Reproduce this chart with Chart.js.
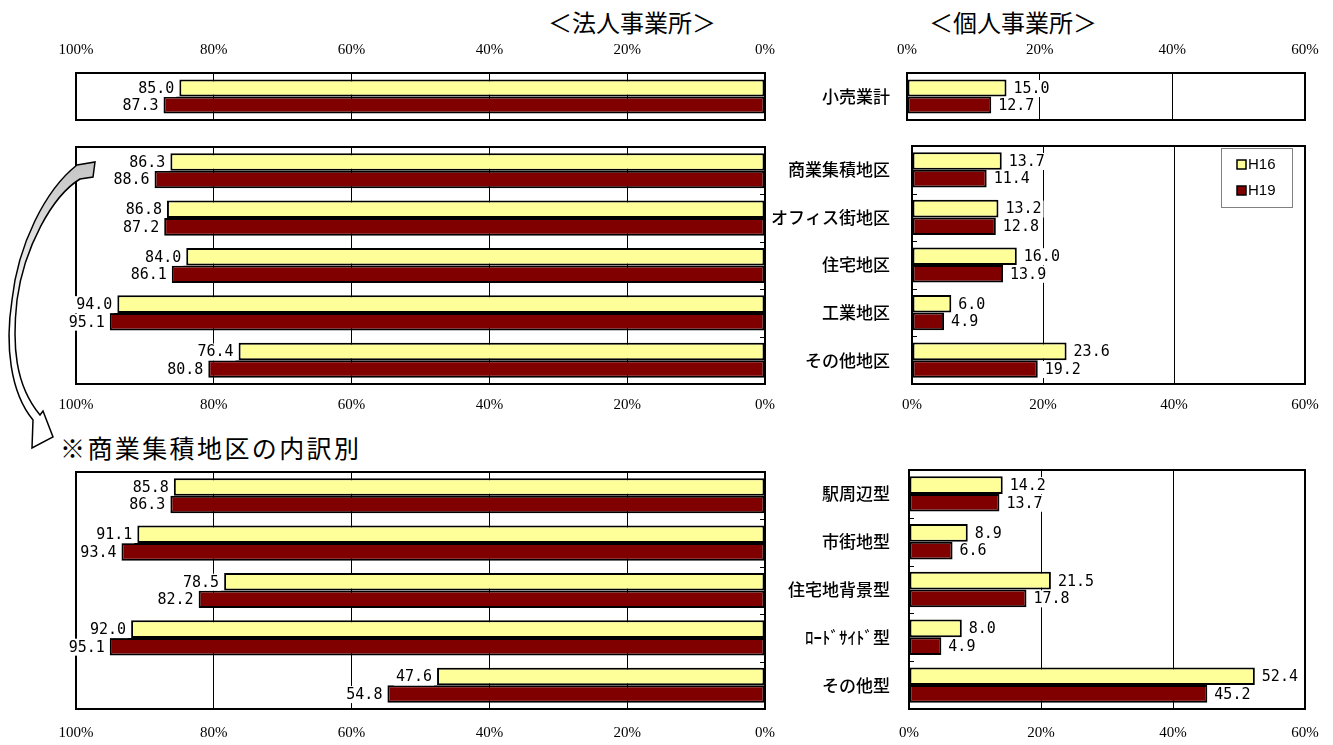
<!DOCTYPE html>
<html lang="ja">
<head>
<meta charset="utf-8">
<script src="https://cdn.jsdelivr.net/npm/chart.js@4.4.1/dist/chart.umd.min.js"></script>
<style>
  html, body { margin: 0; padding: 0; background: #fff; }
  body { width: 1333px; height: 745px; position: relative; overflow: hidden;
         font-family: "Noto Sans CJK JP", sans-serif; color: #000; }
  canvas { position: absolute; }
  .title { position: absolute; font-size: 24px; line-height: 24px; white-space: nowrap;
           transform: translateX(-50%); }
  .subtitle { position: absolute; font-size: 25px; line-height: 26px; letter-spacing: 2.4px;
              font-weight: 400; white-space: nowrap; }
  svg.arrow { position: absolute; left: 0; top: 0; z-index: 5; pointer-events: none; }
</style>
</head>
<body>
<div class="title" style="left:632px; top:10px;">＜法人事業所＞</div>
<div class="title" style="left:1013px; top:10px;">＜個人事業所＞</div>
<div class="subtitle" style="left:60px; top:434px;">※商業集積地区の内訳別</div>

<svg class="arrow" width="140" height="470" viewBox="0 0 140 470">
  <defs>
    <linearGradient id="shade" x1="0" y1="160" x2="0" y2="330" gradientUnits="userSpaceOnUse">
      <stop offset="0" stop-color="#c4c4c4"/>
      <stop offset="1" stop-color="#ffffff"/>
    </linearGradient>
  </defs>
  <path d="M77,165 L95,162 L93,177 L80,179
           C52,196 24,248 17,300 C12,345 15,385 40,415
           L43,411 L53,437 L32,448 L33,420
           C10,392 5,345 12,300 C18,245 45,190 77,165 Z"
        fill="url(#shade)" stroke="#000" stroke-width="1.5" stroke-linejoin="miter"/>
</svg>

<canvas id="corpTotal"></canvas>
<canvas id="indivTotal"></canvas>
<canvas id="corpDistrict"></canvas>
<canvas id="indivDistrict"></canvas>
<canvas id="corpCluster"></canvas>
<canvas id="indivCluster"></canvas>

<script>
// Survey years
const seriesNames = ['H16', 'H19'];

// Retail total
const totalLabels = ['小売業計'];
const corpTotalH16 = [85.0];
const corpTotalH19 = [87.3];
const indivTotalH16 = [15.0];
const indivTotalH19 = [12.7];

// By location type
const districtLabels = ['商業集積地区', 'オフィス街地区', '住宅地区', '工業地区', 'その他地区'];
const corpDistrictH16 = [86.3, 86.8, 84.0, 94.0, 76.4];
const corpDistrictH19 = [88.6, 87.2, 86.1, 95.1, 80.8];
const indivDistrictH16 = [13.7, 13.2, 16.0, 6.0, 23.6];
const indivDistrictH19 = [11.4, 12.8, 13.9, 4.9, 19.2];

// Commercial cluster breakdown
const clusterLabels = ['駅周辺型', '市街地型', '住宅地背景型', 'ﾛｰﾄﾞｻｲﾄﾞ型', 'その他型'];
const corpClusterH16 = [85.8, 91.1, 78.5, 92.0, 47.6];
const corpClusterH19 = [86.3, 93.4, 82.2, 95.1, 54.8];
const indivClusterH16 = [14.2, 8.9, 21.5, 8.0, 52.4];
const indivClusterH19 = [13.7, 6.6, 17.8, 4.9, 45.2];

// Percent axes
const corpAxisMax = 100;
const indivAxisMax = 60;
const axisStep = 20;

const colorH16 = '#FFFF99';
const colorH19 = '#800000';

// Black frame around the plot area plus small inward ticks between categories
const framePlugin = {
  id: 'frame',
  afterDatasetsDraw(chart) {
    const { ctx, chartArea: a } = chart;
    const side = chart.options.plugins.valueLabels.side;
    ctx.save();
    ctx.strokeStyle = '#000';
    ctx.lineWidth = 1;
    const ys = chart.scales.y;
    const n = chart.data.labels.length;
    for (let i = 1; i < n; i++) {
      const y = Math.round((ys.getPixelForValue(i - 1) + ys.getPixelForValue(i)) / 2) + 0.5;
      ctx.beginPath();
      if (side === 'corp') { ctx.moveTo(a.right - 5, y); ctx.lineTo(a.right, y); }
      else { ctx.moveTo(a.left, y); ctx.lineTo(a.left + 5, y); }
      ctx.stroke();
    }
    ctx.lineWidth = 2;
    ctx.strokeRect(a.left, a.top, a.right - a.left, a.bottom - a.top);
    ctx.restore();
  }
};

// Value labels at the bar ends, on a white patch
const valueLabelPlugin = {
  id: 'valueLabels',
  afterDraw(chart) {
    const ctx = chart.ctx;
    const side = chart.options.plugins.valueLabels.side;
    ctx.save();
    ctx.font = '15px "DejaVu Sans Mono", monospace';
    ctx.textBaseline = 'middle';
    chart.data.datasets.forEach((ds, di) => {
      const meta = chart.getDatasetMeta(di);
      meta.data.forEach((bar, i) => {
        const txt = ds.data[i].toFixed(1);
        const w = ctx.measureText(txt).width;
        const x = side === 'corp' ? bar.x - 5 - w : bar.x + 7;
        const y = bar.y;
        ctx.fillStyle = '#fff';
        ctx.fillRect(x - 2, y - 8, w + 4, 17);
        ctx.fillStyle = '#000';
        ctx.fillText(txt, x, y + 1);
      });
    });
    ctx.restore();
  }
};

// Boxed legend inside the upper right corner of the plot
const boxLegendPlugin = {
  id: 'boxLegend',
  afterDraw(chart) {
    const opts = chart.options.plugins.boxLegend;
    if (!opts || !opts.show) return;
    const { ctx, chartArea: a } = chart;
    const bw = 71, bh = 59;
    const bx = a.right - 13 - bw, by = a.top + 2;
    ctx.save();
    ctx.fillStyle = '#fff';
    ctx.fillRect(bx, by, bw, bh);
    ctx.strokeStyle = '#808080';
    ctx.lineWidth = 1;
    ctx.strokeRect(bx + 0.5, by + 0.5, bw, bh);
    ctx.font = '15px "Liberation Sans", sans-serif';
    ctx.textBaseline = 'middle';
    chart.data.datasets.forEach((ds, i) => {
      const cy = by + 17 + i * 26;
      ctx.fillStyle = ds.backgroundColor;
      ctx.fillRect(bx + 16, cy - 5, 9, 9);
      ctx.strokeStyle = '#000';
      ctx.lineWidth = 1.5;
      ctx.strokeRect(bx + 16, cy - 5, 9, 9);
      ctx.fillStyle = '#000';
      ctx.fillText(ds.label, bx + 27, cy);
    });
    ctx.restore();
  }
};

const AXIS_BAND = 45;   // height reserved for the percent axis
const CAT_BAND = 150;   // width reserved for category names
const MARGIN = 40;
const TICK_FONT = 15;

function makePanel(id, cfg) {
  const a = cfg.area;
  const corp = cfg.side === 'corp';
  const padL = corp ? 70 : 0;
  const padR = 30;
  const padT = cfg.axisPos === 'top' ? 0 : MARGIN;
  const padB = cfg.axisPos === 'bottom' ? 0 : MARGIN;
  const left = a.l - (corp ? padL : CAT_BAND);
  const top = a.t - (cfg.axisPos === 'top' ? AXIS_BAND : padT);
  const width = (a.r + padR) - left;
  const height = (a.b + (cfg.axisPos === 'bottom' ? AXIS_BAND : padB)) - top;
  const cv = document.getElementById(id);
  cv.width = width; cv.height = height;
  cv.style.left = left + 'px'; cv.style.top = top + 'px';
  cv.style.width = width + 'px'; cv.style.height = height + 'px';

  const lineH = TICK_FONT * 1.2;
  const tickPad = cfg.axisPos === 'top' ? (a.t - cfg.tickY) - lineH / 2 : (cfg.tickY - a.b) - lineH / 2;

  const yScale = {
    display: !corp,
    ticks: {
      padding: a.l - 898,
      color: '#000',
      font: { family: '"Noto Sans CJK JP", sans-serif', size: 17, weight: 500 }
    },
    grid: { display: false },
    border: { display: false }
  };
  if (!corp) yScale.afterFit = s => { s.width = CAT_BAND; };

  return new Chart(cv, {
    type: 'bar',
    data: {
      labels: cfg.labels,
      datasets: [
        { label: seriesNames[0], data: cfg.h16, backgroundColor: colorH16, borderColor: '#000',
          borderWidth: 2, borderSkipped: false, categoryPercentage: cfg.catPct, barPercentage: 1 },
        { label: seriesNames[1], data: cfg.h19, backgroundColor: colorH19, borderColor: '#000',
          borderWidth: 2, borderSkipped: false, categoryPercentage: cfg.catPct, barPercentage: 1 }
      ]
    },
    options: {
      indexAxis: 'y',
      responsive: false,
      animation: false,
      devicePixelRatio: 1,
      layout: { padding: { left: padL, right: padR, top: padT, bottom: padB } },
      plugins: {
        legend: { display: false },
        tooltip: { enabled: false },
        valueLabels: { side: cfg.side },
        boxLegend: { show: !!cfg.legend }
      },
      scales: {
        x: {
          position: cfg.axisPos,
          reverse: corp,
          min: 0,
          max: corp ? corpAxisMax : indivAxisMax,
          ticks: {
            stepSize: axisStep,
            callback: v => v + '%',
            padding: tickPad,
            maxRotation: 0,
            autoSkip: false,
            color: '#000',
            font: { family: '"Liberation Serif", serif', size: TICK_FONT }
          },
          grid: { color: '#000', lineWidth: 1, drawTicks: false },
          border: { display: false },
          afterFit: s => { s.height = AXIS_BAND; }
        },
        y: yScale
      }
    },
    plugins: [framePlugin, valueLabelPlugin, boxLegendPlugin]
  });
}

makePanel('corpTotal', {
  side: 'corp', axisPos: 'top', area: { l: 76, t: 73, r: 765, b: 120 }, tickY: 50,
  labels: totalLabels, h16: corpTotalH16, h19: corpTotalH19, catPct: 0.72
});
makePanel('indivTotal', {
  side: 'indiv', axisPos: 'top', area: { l: 907, t: 73, r: 1305, b: 120 }, tickY: 50,
  labels: totalLabels, h16: indivTotalH16, h19: indivTotalH19, catPct: 0.72
});
makePanel('corpDistrict', {
  side: 'corp', axisPos: 'bottom', area: { l: 76, t: 147, r: 765, b: 384 }, tickY: 405,
  labels: districtLabels, h16: corpDistrictH16, h19: corpDistrictH19, catPct: 0.74
});
makePanel('indivDistrict', {
  side: 'indiv', axisPos: 'bottom', area: { l: 912, t: 146, r: 1305, b: 384 }, tickY: 405,
  labels: districtLabels, h16: indivDistrictH16, h19: indivDistrictH19, catPct: 0.74, legend: true
});
makePanel('corpCluster', {
  side: 'corp', axisPos: 'bottom', area: { l: 76, t: 472, r: 765, b: 709 }, tickY: 733,
  labels: clusterLabels, h16: corpClusterH16, h19: corpClusterH19, catPct: 0.74
});
makePanel('indivCluster', {
  side: 'indiv', axisPos: 'bottom', area: { l: 909, t: 470, r: 1305, b: 709 }, tickY: 733,
  labels: clusterLabels, h16: indivClusterH16, h19: indivClusterH19, catPct: 0.74
});
</script>
</body>
</html>
